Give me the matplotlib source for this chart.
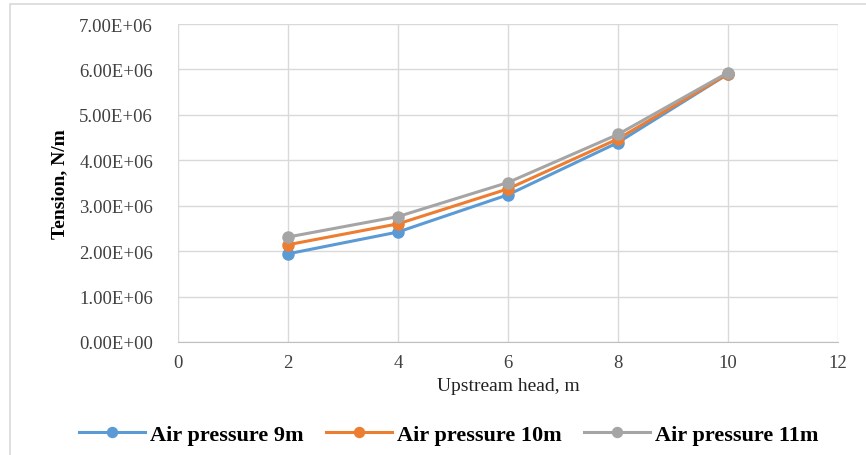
import numpy as np
import matplotlib.pyplot as plt
from matplotlib.patches import Rectangle

# data
head = [2, 4, 6, 8, 10]
tension_9m = [1.94e6, 2.42e6, 3.24e6, 4.39e6, 5.90e6]
tension_10m = [2.14e6, 2.60e6, 3.37e6, 4.47e6, 5.90e6]
tension_11m = [2.31e6, 2.76e6, 3.51e6, 4.57e6, 5.93e6]

series = [
    ("Air pressure 9m", tension_9m, "#5b9bd5"),
    ("Air pressure 10m", tension_10m, "#ed7d31"),
    ("Air pressure 11m", tension_11m, "#a5a5a5"),
]

plt.rcParams["font.family"] = ["Liberation Serif", "DejaVu Serif"]

fig = plt.figure(figsize=(8.66, 4.56), dpi=100)
ax = fig.add_axes([0.2055, 0.248, 0.762, 0.697])

# outer chart frame
fig.patches.append(Rectangle((0.011, -0.05), 1.2, 1.04, transform=fig.transFigure,
                             fill=False, edgecolor="#d9d9d9", linewidth=1.2))

for name, vals, color in series:
    ax.plot(head, vals, color=color, linewidth=2.2, marker="o",
            markersize=8, label=name)

ax.set_xlim(0, 12)
ax.set_ylim(0, 7e6)
ax.set_xticks(np.arange(0, 13, 2))
ax.set_yticks(np.arange(0, 7.01e6, 1e6))
ax.set_yticklabels([f"{v / 1e6:.2f}E+06" if v > 0 else "0.00E+00"
                    for v in np.arange(0, 7.01e6, 1e6)])

ax.grid(True, color="#d9d9d9", linewidth=1)
ax.set_axisbelow(True)
for side in ["top", "right", "left"]:
    ax.spines[side].set_visible(False)
ax.spines["bottom"].set_color("#bfbfbf")
ax.tick_params(length=0, labelsize=13.5, colors="#404040")
ax.tick_params(axis="y", pad=18)
ax.tick_params(axis="x", pad=9)

ax.set_xlabel("Upstream head, m", fontsize=14, color="#222222", labelpad=4)
ax.set_ylabel("Tension, N/m", fontsize=14, fontweight="bold", labelpad=8)

fig.legend(loc="center", bbox_to_anchor=(0.518, 0.045), ncol=3,
           frameon=False, prop={"size": 16, "weight": "bold"},
           handlelength=3.0, columnspacing=1.0, handletextpad=0.2,
           markerscale=0.9)

plt.savefig("out.png", dpi=100)
